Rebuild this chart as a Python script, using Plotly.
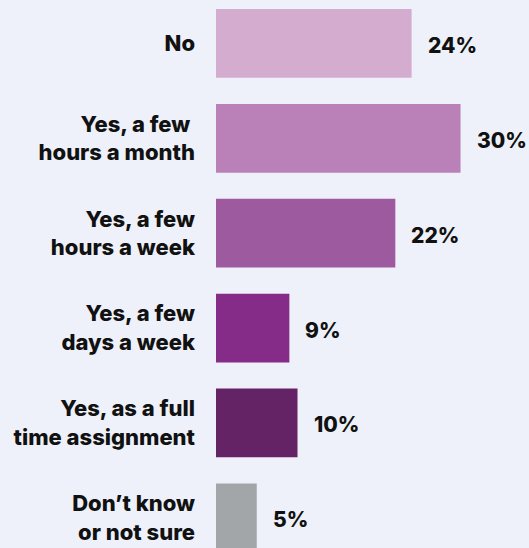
import plotly.graph_objects as go

# Survey responses, top to bottom
categories = [
    "No",
    "Yes, a few\u00a0<br>hours a month",
    "Yes, a few<br>hours a week",
    "Yes, a few<br>days a week",
    "Yes, as a full<br>time assignment",
    "Don\u2019t know<br>or not sure",
]
values = [24, 30, 22, 9, 10, 5]
value_labels = ["24%", "30%", "22%", "9%", "10%", "5%"]
bar_colors = ["#d3acd0", "#b981b7", "#9e5a9f", "#842c87", "#642365", "#a3a6a9"]

BG = "#eef1f9"
TEXT = "#111111"
FONT = "Inter"

fig = go.Figure(
    go.Bar(
        x=values,
        y=categories,
        orientation="h",
        marker=dict(color=bar_colors, line=dict(width=0)),
        hoverinfo="skip",
    )
)

for cat, val, lab in zip(categories, values, value_labels):
    fig.add_annotation(
        x=val, y=cat, text=lab, showarrow=False,
        xanchor="left", yanchor="middle", xshift=14, yshift=-2,
        font=dict(family=FONT, size=21, color=TEXT, weight=800),
    )

fig.update_layout(
    width=529, height=548,
    margin=dict(l=216, r=0, t=0, b=0),
    paper_bgcolor=BG, plot_bgcolor=BG,
    bargap=0.276,
    showlegend=False,
    xaxis=dict(visible=False, range=[0, 38.4]),
    yaxis=dict(
        type="category",
        categoryorder="array", categoryarray=categories,
        range=[5.318, -0.4575],
        showgrid=False, zeroline=False, showline=False, ticks="",
        ticklabelstandoff=20,
        tickfont=dict(family=FONT, size=22, color=TEXT, weight=800),
    ),
)

fig.write_html("out.html")
